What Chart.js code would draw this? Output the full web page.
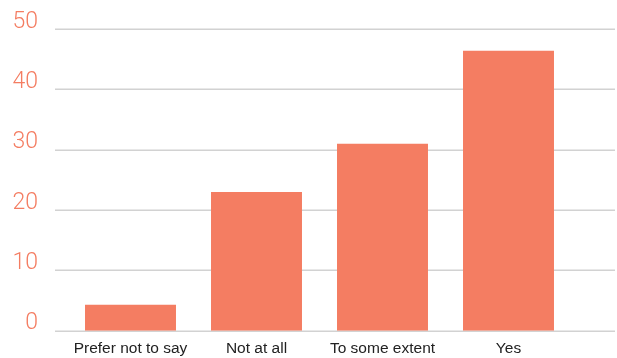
<!DOCTYPE html>
<html>
<head>
<meta charset="utf-8">
<script src="https://cdn.jsdelivr.net/npm/chart.js@4/dist/chart.umd.min.js"></script>
<style>
  html, body { margin: 0; padding: 0; background: #fff; overflow: hidden; }
  canvas { display: block; }
</style>
</head>
<body>
<canvas id="chart" width="617" height="358"></canvas>
<script>
// Survey answers
const categories = ["Prefer not to say", "Not at all", "To some extent", "Yes"];
const values = [4.3, 23, 31, 46.4];
const yTicks = [0, 10, 20, 30, 40, 50];

const barColor = "#f47d62";
const gridColor = "#d2d2d2";

// horizontal guide lines, running wider than the bar area
const wideGrid = {
  id: "wideGrid",
  beforeDatasetsDraw(chart) {
    const { ctx, scales: { y } } = chart;
    ctx.save();
    ctx.strokeStyle = gridColor;
    ctx.lineWidth = 1.5;
    yTicks.forEach(v => {
      const py = Math.round(y.getPixelForValue(v)) + 0.25;
      ctx.beginPath();
      ctx.moveTo(55, py);
      ctx.lineTo(chart.width - 2, py);
      ctx.stroke();
    });
    ctx.restore();
  }
};

new Chart(document.getElementById("chart"), {
  type: "bar",
  data: {
    labels: categories,
    datasets: [{
      data: values,
      backgroundColor: barColor,
      borderWidth: 0,
      categoryPercentage: 1,
      barPercentage: 0.722,
    }],
  },
  options: {
    responsive: false,
    animation: false,
    layout: { padding: { top: 29, right: 45.5, left: 0, bottom: 0 } },
    plugins: { legend: { display: false }, tooltip: { enabled: false } },
    scales: {
      y: {
        min: 0,
        max: 50,
        afterFit: s => {
          s.width = 67.5;
          s.paddingTop = 0;
          s.paddingBottom = 0;
        },
        afterBuildTicks: s => { s.ticks = yTicks.map(v => ({ value: v })); },
        grid: { display: false },
        border: { display: false },
        ticks: {
          padding: 21.5,
          labelOffset: -7,
          color: "#f47d62",
          font: { family: "Roboto", size: 23, weight: 300 },
        },
      },
      x: {
        afterFit: s => {
          s.height = 27.3;
          s.paddingLeft = 0;
          s.paddingRight = 0;
        },
        grid: { display: false },
        border: { display: false },
        ticks: {
          padding: 1,
          color: "#222",
          font: { family: "Liberation Sans", size: 15.5, lineHeight: 1.2 },
          maxRotation: 0,
        },
      },
    },
  },
  plugins: [wideGrid],
});
</script>
</body>
</html>
